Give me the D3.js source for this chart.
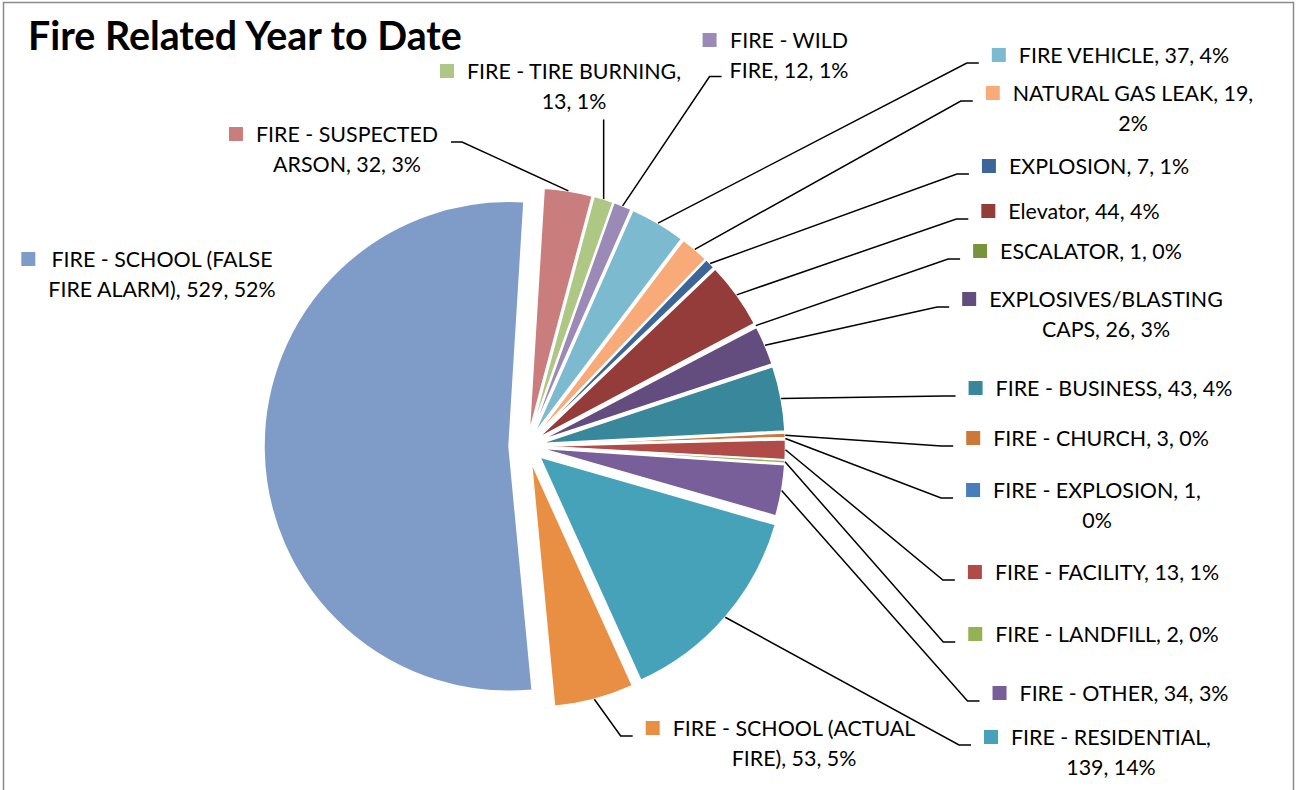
<!DOCTYPE html>
<html><head><meta charset="utf-8">
<script src="https://cdn.jsdelivr.net/npm/d3@7"></script>
<style>body{margin:0;background:#fff}svg{display:block}</style>
</head><body><svg id="chart" width="1296" height="790"></svg>
<script>
// ---- data (clockwise from the top, starting with SUSPECTED ARSON) ----
const categories = [
  "FIRE - SUSPECTED ARSON","FIRE - TIRE BURNING","FIRE - WILD FIRE","FIRE VEHICLE",
  "NATURAL GAS LEAK","EXPLOSION","Elevator","ESCALATOR","EXPLOSIVES/BLASTING CAPS",
  "FIRE - BUSINESS","FIRE - CHURCH","FIRE - EXPLOSION","FIRE - FACILITY","FIRE - LANDFILL",
  "FIRE - OTHER","FIRE - RESIDENTIAL","FIRE - SCHOOL (ACTUAL FIRE)","FIRE - SCHOOL (FALSE FIRE ALARM)"
];
const values = [32,13,12,37,19,7,44,1,26,43,3,1,13,2,34,139,53,529];
const title = "Fire Related Year to Date";

// ---- styles / layout (kept apart from data) ----
const colors = ["#C97D7C","#AEC785","#9C8AB6","#7CBACF","#F8AB78","#3D6698","#943C3A","#77933C",
  "#634C7E","#38879A","#CB7838","#4A7EBB","#B04B48","#93B155","#785F9A","#46A2B8","#E98F43","#7F9CC8"];
const explode = [13.5,13.5,13.5,13.5,13.5,13.5,13.5,13.5,13.5,13.5,13.5,13.5,13.5,13.5,13.5,17,17,18];
const wrapAfter = [3,4,3,0,4,0,0,0,1,0,0,4,0,0,0,3,4,4];
const labelPos = [[347,142],[574,79],[789,48],[1124,63],[1133,101],[1099,174],[1084,219],[1091,259],
  [1106,307],[1114,396],[1101,446],[1097,498],[1107,580],[1107,642],[1124,701],[1111,745],[794,736],[162,267]];
const leaderSide = ["L","T","W","R","R","R","R","R","R","R","R","R","R","R","R","R","R","N"];

const W = 1296, H = 790, cx = 527, cy = 446, R = 245;
const lineH = 29.5;
const svg = d3.select("#chart");
svg.append("rect").attr("x",3.5).attr("y",2.5).attr("width",1290).attr("height",800)
  .attr("fill","#fff").attr("stroke","#8a8a8a").attr("stroke-width",1.5);

// font sizing to match the reference text widths
function measure(str, size, weight){
  const t = svg.append("text").attr("font-family","Lato, 'Open Sans', sans-serif")
    .attr("font-size",size).attr("font-weight",weight).text(str);
  const w = t.node().getComputedTextLength(); t.remove(); return w;
}
const labelSize = 100*237/measure("FIRE - BUSINESS, 43, 4%",100,400);
const titleSize = 100*434/measure(title,100,700);

svg.append("text").attr("x",28).attr("y",50).attr("font-family","Lato, sans-serif")
  .attr("font-weight",700).attr("font-size",titleSize).attr("fill","#000").text(title);

const total = d3.sum(values);
const a0 = 3.5*Math.PI/180;
const data = categories.map((c,i)=>({cat:c, value:values[i]}));
const arcs = d3.pie().sort(null).value(d=>d.value).startAngle(a0).endAngle(a0+2*Math.PI)(data);
const arc = d3.arc().innerRadius(0).outerRadius(R);
const g = svg.append("g").attr("transform",`translate(${cx},${cy})`);
g.selectAll("path").data(arcs).join("path")
  .attr("d",arc)
  .attr("transform",d=>{const m=(d.startAngle+d.endAngle)/2, e=explode[d.index];
     return `translate(${e*Math.sin(m)},${-e*Math.cos(m)})`;})
  .attr("fill",d=>colors[d.index]).attr("stroke","#fff").attr("stroke-width",1.5);

// labels
const lab = svg.append("g").attr("font-family","Lato, 'Open Sans', sans-serif")
  .attr("font-size",labelSize).attr("fill","#000");
const leaders = svg.append("g").attr("fill","none").attr("stroke","#000").attr("stroke-width",1.5);

arcs.forEach(d=>{
  const i = d.index;
  const pct = Math.round(values[i]/total*100);
  const full = `${categories[i]}, ${values[i]}, ${pct}%`;
  const words = full.split(" ");
  const k = wrapAfter[i];
  const lines = k ? [words.slice(0,k).join(" "), words.slice(k).join(" ")] : [full];
  const [lx, ly] = labelPos[i];
  const widths = [];
  lines.forEach((ln,j)=>{
    const t = lab.append("text").attr("x",lx).attr("y",ly+j*lineH).attr("text-anchor","middle").text(ln);
    widths.push(t.node().getComputedTextLength());
  });
  const leftMost = lx - d3.max(widths)/2;
  lab.append("rect").attr("x",leftMost-13-14).attr("y",ly-15).attr("width",14).attr("height",14)
    .attr("fill",colors[i]);

  const m = (d.startAngle+d.endAngle)/2, e = explode[i];
  const p = [cx+(R+e)*Math.sin(m), cy-(R+e)*Math.cos(m)];
  const side = leaderSide[i];
  let pts = null;
  if (side==="R"){ const ex = leftMost-27-13; pts=[p,[ex-12,ly],[ex,ly]]; }
  else if (side==="L"){ const ex = lx+widths[0]/2+13; pts=[p,[ex+11,ly],[ex,ly]]; }
  else if (side==="W"){ const l2 = lx - widths[1]/2 - 8, y2 = ly+lineH-1; pts=[p,[l2-12,y2],[l2,y2]]; }
  else if (side==="T"){ pts=[p,[p[0], ly+(lines.length-1)*lineH+11]]; }
  if (pts) leaders.append("path").attr("d",d3.line()(pts));
});
</script></body></html>
